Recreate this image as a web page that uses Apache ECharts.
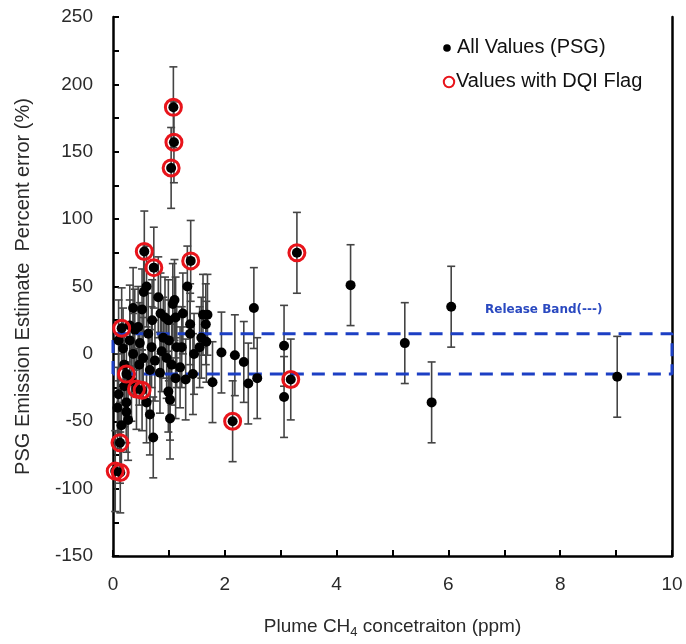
<!DOCTYPE html>
<html>
<head>
<meta charset="utf-8">
<script src="https://cdn.jsdelivr.net/npm/echarts@6/dist/echarts.min.js"></script>
<style>html,body{margin:0;padding:0;background:#fff}#c{width:686px;height:644px}</style>
</head>
<body>
<div id="c"></div>
<script>
// Plume CH4 concentration (ppm) and percent error (%) for all PSG values
const allX = [4.25,5.22,5.7,6.05,9.02,3.06,3.06,2.52,2.58,2.42,2.34,2.18,1.94,
  0.6,0.55,0.81,1.33,1.1,1.07,0.36,0.52,0.93,0.99,1.12,1.61,1.69,1.66,1.55,1.67,1.38,1.38,
  0.39,0.3,0.45,0.3,0.48,0.69,0.87,0.96,1.14,1.23,1.05,1.2,0.36,0.54,0.66,0.84,1.3,1.43,1.78,
  0.99,1.12,0.1,1.02,0.6,0.24,0.24,0.27,0.66,1.02,0.72,0.08,0.15,0.2,0.18,0.1,0.7,0.75,0.9,1.0,
  1.58,0.47,0.63,0.2,0.33,0.85,1.25,1.45,
  1.08,1.09,1.04,0.56,0.73,1.39,3.29,0.155,0.24,0.42,0.52,0.125,0.04,0.13,2.14,3.18];
const allY = [51,8,-36,35,-17,6,-32,34,-18,-22,-6,-1,1,
  50,46,42,50,40,37,34,33,27,25,27,29,29,22,5,9,22,15,
  18,21,20,10,8,5,2,-3,5,5,-8,-10,0,-3,-12,-14,-19,-15,-21,
  -28,-18,-30,-34,-36,-36,-43,-49,-45,-48,-62,-40,-53,-24,4,10,25,-5,12,10,
  12,-8,15,-8,-20,30,30,0,
  183,157,138,76,64,69,75,19,-15,-26,-27,-66,-87,-88,-50,-19];
// Values with DQI flag
const flagX = [1.08,1.09,1.04,0.56,0.73,1.39,3.29,0.155,0.24,0.42,0.52,0.125,0.04,0.13,2.14,3.18];
const flagY = [183,157,138,76,64,69,75,19,-15,-26,-27,-66,-87,-88,-50,-19];
const errorPct = 30;           // error bar half-width (%)
const bandLow = -15, bandHigh = 15; // release band (%)
const bandX = [0, 10];
const xTicks = [0, 10, 2];     // min, max, label step
const yTicks = [-150, 250, 50];

const chart = echarts.init(document.getElementById('c'), null, {renderer:'canvas'});
const FONT = 'Liberation Sans, Arial, sans-serif';
const pts = allX.map((x, i) => [x, allY[i]]);
const errs = allX.map((x, i) => [x, allY[i] - errorPct, allY[i] + errorPct]);
const flags = flagX.map((x, i) => [x, flagY[i]]);
const band = [[bandX[0], bandLow], [bandX[0], bandHigh], [bandX[1], bandHigh], [bandX[1], bandLow], [bandX[0], bandLow]];

chart.setOption({
  animation: false,
  grid: {left: 113, right: 14, top: 17, bottom: 84},
  xAxis: {
    type: 'value', min: xTicks[0], max: xTicks[1], interval: xTicks[2],
    name: '{a|Plume CH}{s|4}{a| concetraiton (ppm)}',
    nameLocation: 'middle', nameGap: 58,
    nameTextStyle: {rich: {a: {fontSize: 19, fontFamily: FONT, color: '#2a2a2a'}, s: {fontSize: 13, fontFamily: FONT, color: '#2a2a2a', verticalAlign: 'bottom', padding: [12,0,0,0]}}},
    axisLine: {onZero: false, lineStyle: {color: '#000', width: 2.5}},
    axisTick: {inside: true, length: 6, lineStyle: {color: '#000', width: 2}},
    minorTick: {show: true, splitNumber: 2, length: 6, lineStyle: {color: '#000', width: 2}},
    axisLabel: {fontSize: 19, fontFamily: FONT, color: '#2a2a2a', margin: 19},
    splitLine: {show: false}
  },
  yAxis: [{
    type: 'value', min: yTicks[0], max: yTicks[1], interval: yTicks[2],
    name: 'PSG Emission Estimate  Percent error (%)',
    nameLocation: 'middle', nameGap: 80,
    nameTextStyle: {fontSize: 20, fontFamily: FONT, color: '#2a2a2a'},
    axisLine: {onZero: false, lineStyle: {color: '#000', width: 2.5}},
    axisTick: {inside: true, length: 6, lineStyle: {color: '#000', width: 2}},
    minorTick: {show: true, splitNumber: 2, length: 6, lineStyle: {color: '#000', width: 2}},
    axisLabel: {fontSize: 19, fontFamily: FONT, color: '#2a2a2a', margin: 20},
    splitLine: {show: false}
  }, {
    type: 'value', min: yTicks[0], max: yTicks[1], interval: yTicks[2], position: 'right',
    axisLine: {show: true, onZero: false, lineStyle: {color: '#000', width: 2.5}},
    axisTick: {show: false}, axisLabel: {show: false}, splitLine: {show: false}
  }],
  series: [
    {
      type: 'custom', data: errs, z: 2,
      renderItem: function (params, api) {
        const x = api.value(0);
        const lo = api.coord([x, api.value(1)]);
        const hi = api.coord([x, api.value(2)]);
        const w = 4;
        const st = {stroke: '#444', lineWidth: 1.6};
        return {type: 'group', children: [
          {type: 'line', shape: {x1: lo[0], y1: lo[1], x2: hi[0], y2: hi[1]}, style: st},
          {type: 'line', shape: {x1: lo[0]-w, y1: lo[1], x2: lo[0]+w, y2: lo[1]}, style: st},
          {type: 'line', shape: {x1: hi[0]-w, y1: hi[1], x2: hi[0]+w, y2: hi[1]}, style: st}
        ]};
      }
    },
    {
      type: 'line', data: band, symbol: 'none', z: 3,
      lineStyle: {color: '#1c3fc4', width: 3, type: [13, 8]}
    },
    {
      name: 'All Values (PSG)', type: 'scatter', data: pts, z: 4,
      symbol: 'circle', symbolSize: 10, itemStyle: {color: '#000', opacity: 1}
    },
    {
      name: 'Values with DQI Flag', type: 'scatter', data: flags, z: 5,
      symbol: 'circle', symbolSize: 16,
      itemStyle: {color: 'rgba(0,0,0,0)', borderColor: '#e8141b', borderWidth: 3, opacity: 1}
    }
  ],
  graphic: [
    {type: 'circle', shape: {cx: 447, cy: 48, r: 3.8}, style: {fill: '#000'}},
    {type: 'text', left: 457, top: 37, style: {text: 'All Values (PSG)', fontSize: 20, fontFamily: FONT, fill: '#111'}},
    {type: 'circle', shape: {cx: 449, cy: 82, r: 5.2}, style: {fill: 'none', stroke: '#e8141b', lineWidth: 2}},
    {type: 'text', left: 456, top: 71, style: {text: 'Values with DQI Flag', fontSize: 20, fontFamily: FONT, fill: '#111'}},
    {type: 'text', left: 485, top: 304, style: {text: 'Release Band(---)', fontSize: 12, fontWeight: 'bold', fontFamily: 'DejaVu Sans, Verdana, sans-serif', fill: '#2a49c0'}}
  ]
});
</script>
</body>
</html>
